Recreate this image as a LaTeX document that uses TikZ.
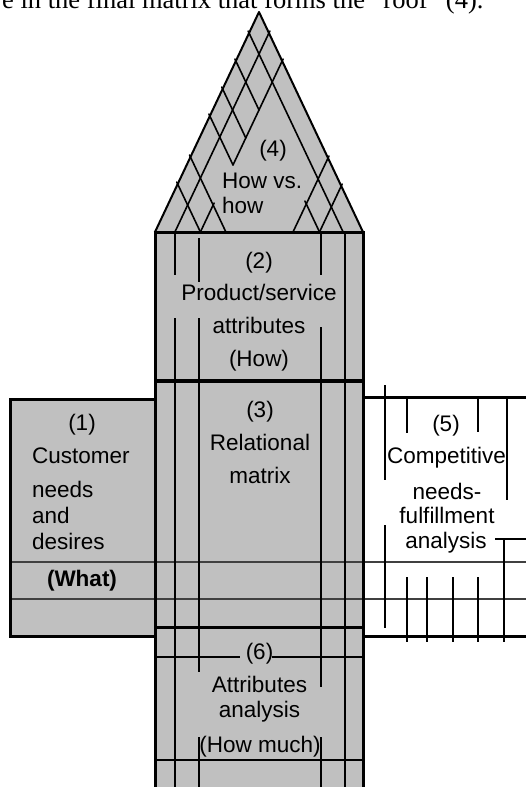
\documentclass[tikz,border=0pt]{standalone}
\usepackage{fontspec}
\setmainfont{Liberation Sans}
\newfontfamily\captserif{Liberation Serif}
\definecolor{qgray}{RGB}{192,192,192}
\tikzset{
  thickln/.style={line width=3pt},
  midln/.style={line width=4.5pt},
  thinln/.style={line width=1.5pt},
  gridln/.style={line width=1.1pt, draw=black!75},
  roofln/.style={line width=2pt, line join=round},
  latt/.style={line width=1.6pt, line cap=round},
  lbl/.style={font=\fontsize{22.5}{26}\selectfont, inner sep=0pt, anchor=base},
  lblw/.style={lbl, anchor=base west},
  capt/.style={font=\captserif\fontsize{26.5}{30}\selectfont, inner sep=0pt, anchor=base west},
}
\begin{document}
\begin{tikzpicture}[x=1pt,y=-1pt]
\useasboundingbox (0,0) rectangle (526,787);
\clip (0,0) rectangle (526,787);
% partial caption line at the top
\node[capt] (capt) at (2,8.5) {e in the final matrix that forms the “roof” (4).};
% fills
\fill[qgray] (155,232) -- (259,12) -- (363,232) -- cycle;
\fill[qgray] (155,232) rectangle (363,790);
\fill[qgray] (10,399) rectangle (155,636);
% roof lattice
\draw[latt] (248.1,31) -- (343.1,232);
\draw[latt] (234.9,59) -- (259,110);
\draw[latt] (221.7,87) -- (245.8,138);
\draw[latt] (208.9,114) -- (233,165);
\draw[latt] (189.5,155) -- (225.9,232);
\draw[latt] (176.7,182) -- (200.4,232);
\draw[latt] (304.9,201) -- (319.5,232);
\draw[latt] (269.9,31) -- (174.9,232);
\draw[latt] (283.1,59) -- (233,165);
\draw[latt] (200.4,232) -- (214.1,203);
\draw[latt] (329,156) -- (293,232);
\draw[latt] (342.2,184) -- (319.5,232);
\draw[roofln] (155,232) -- (259,12) -- (363,232);
% grid rows
\draw[gridln] (10,562) -- (530,562);
\draw[gridln] (10,599) -- (530,599);
% central column verticals
\draw[thinln] (175,232) -- (175,275);
\draw[thinln] (175,318) -- (175,790);
\draw[thinln] (199,238) -- (199,282);
\draw[thinln] (199,318) -- (199,672);
\draw[thinln] (199,737) -- (199,790);
\draw[thinln] (321,232) -- (321,275);
\draw[thinln] (321,327) -- (321,687);
\draw[thinln] (321,737) -- (321,790);
\draw[thinln] (345,232) -- (345,790);
% (6) horizontals
\draw[thinln] (155,657) -- (240,657);
\draw[thinln] (272,657) -- (363,657);
\draw[thinln] (155,760) -- (363,760);
% right part (5)
\draw[thinln] (385,385) -- (385,480);
\draw[thinln] (385,525) -- (385,628);
\draw[thinln] (407,397) -- (407,433);
\draw[thinln] (478,397) -- (478,432);
\draw[thinln] (507,397) -- (507,500);
\draw[thinln] (495,539) -- (530,539);
\draw[thinln] (504,539) -- (504,642);
\draw[thinln] (407,577) -- (407,642);
\draw[thinln] (427,577) -- (427,642);
\draw[thinln] (453,577) -- (453,642);
\draw[thinln] (478,577) -- (478,642);
% thick borders
\draw[thickln] (155,232) -- (155,790);
\draw[thickln] (363,232) -- (363,790);
\draw[thickln] (153.5,232) -- (364.5,232);
\draw[midln] (155,381) -- (363,381);
\draw[thickln] (155,627) -- (363,627);
\draw[thickln] (155,399) -- (10,399) -- (10,636) -- (155,636);
\draw[thickln] (363,397) -- (530,397);
\draw[thickln] (363,636) -- (530,636);
% texts
\node[lbl] (t4a) at (273,156) {(4)};
\node[lblw] (t4b) at (222,188) {How vs.};
\node[lblw] (t4c) at (222,213) {how};
\node[lbl] (t2a) at (259,268) {(2)};
\node[lbl] (t2b) at (259,300) {Product/service};
\node[lbl] (t2c) at (259,333) {attributes};
\node[lbl] (t2d) at (259,366) {(How)};
\node[lbl] (t3a) at (260,417) {(3)};
\node[lbl] (t3b) at (260,450) {Relational};
\node[lbl] (t3c) at (260,483) {matrix};
\node[lbl] (t1a) at (82,430) {(1)};
\node[lblw] (t1b) at (32,463) {Customer};
\node[lblw] (t1c) at (32,497) {needs};
\node[lblw] (t1d) at (32,523) {and};
\node[lblw] (t1e) at (32,549) {desires};
\node[lbl,font=\fontsize{22.5}{26}\selectfont\bfseries] (t1f) at (82,586) {(What)};
\node[lbl] (t5a) at (446,431) {(5)};
\node[lbl] (t5b) at (446.5,463) {Competitive};
\node[lbl] (t5c) at (447,499) {needs-};
\node[lbl] (t5d) at (447,523) {fulfillment};
\node[lbl] (t5e) at (446,548) {analysis};
\node[lbl] (t6a) at (259.5,659) {(6)};
\node[lbl] (t6b) at (259.5,692) {Attributes};
\node[lbl] (t6c) at (259.5,717) {analysis};
\node[lbl] (t6d) at (260,752) {(How much)};
\end{tikzpicture}
\end{document}
